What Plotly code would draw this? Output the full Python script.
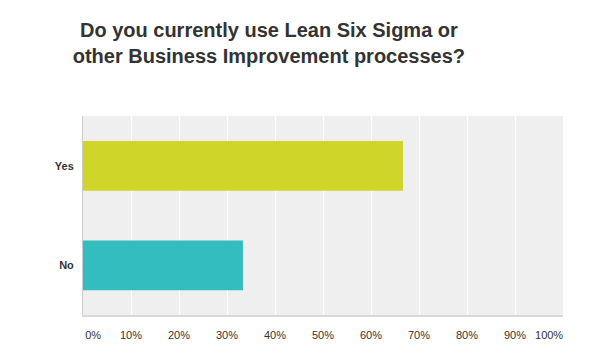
import plotly.graph_objects as go

categories = ["Yes", "No"]
values = [66.67, 33.33]
colors = ["#d0d52a", "#33bdbf"]
tick_vals = [0, 10, 20, 30, 40, 50, 60, 70, 80, 90, 100]
tick_text = ["0%", "10%", "20%", "30%", "40%", "50%", "60%", "70%", "80%", "90%", "100%"]
# label positions: first and last labels are kept inside the plot edges
label_pos = [2.1, 10, 20, 30, 40, 50, 60, 70, 80, 90, 97.1]

fig = go.Figure()
fig.add_trace(go.Bar(
    x=values, y=categories, orientation="h",
    marker=dict(color=colors, line=dict(width=0)),
    hoverinfo="x+y", showlegend=False,
))
# invisible helper trace so the label axis is drawn
fig.add_trace(go.Scatter(
    x=[0], y=[categories[0]], xaxis="x2", yaxis="y", mode="markers",
    marker=dict(opacity=0), hoverinfo="skip", showlegend=False,
))

font_family = "Liberation Sans, Arial, sans-serif"

fig.update_layout(
    width=591, height=354,
    margin=dict(l=83, r=28, t=116, b=39),
    paper_bgcolor="white",
    plot_bgcolor="#efefef",
    bargap=0.5,
    font=dict(family=font_family, size=11, color="#333333"),
    title=dict(
        text="Do you currently use Lean Six Sigma or<br>other Business Improvement processes?",
        x=0.455, xanchor="center", xref="container",
        y=0.895, yanchor="middle", yref="container",
        font=dict(family=font_family, size=20, color="#333333", weight="bold"),
    ),
    xaxis=dict(
        range=[0, 100], tickvals=tick_vals, showticklabels=False,
        showgrid=True, gridcolor="#ffffff", gridwidth=1,
        zeroline=False, showline=True, linecolor="#d9d9d9", linewidth=2,
        fixedrange=True,
    ),
    xaxis2=dict(
        range=[0, 100], overlaying="x", side="bottom", anchor="y",
        tickvals=label_pos, ticktext=tick_text, showgrid=False, zeroline=False,
        showline=False, ticks="", ticklabelstandoff=12,
        tickfont=dict(family=font_family, size=11, color="#333333"),
    ),
    yaxis=dict(
        categoryorder="array", categoryarray=categories, autorange="reversed",
        showgrid=False, zeroline=False, showline=True, linecolor="#cccccc", linewidth=1,
        ticks="", ticklabelstandoff=6,
        tickfont=dict(family=font_family, size=11, color="#333333", weight="bold"),
    ),
)

fig.write_html("out.html")
